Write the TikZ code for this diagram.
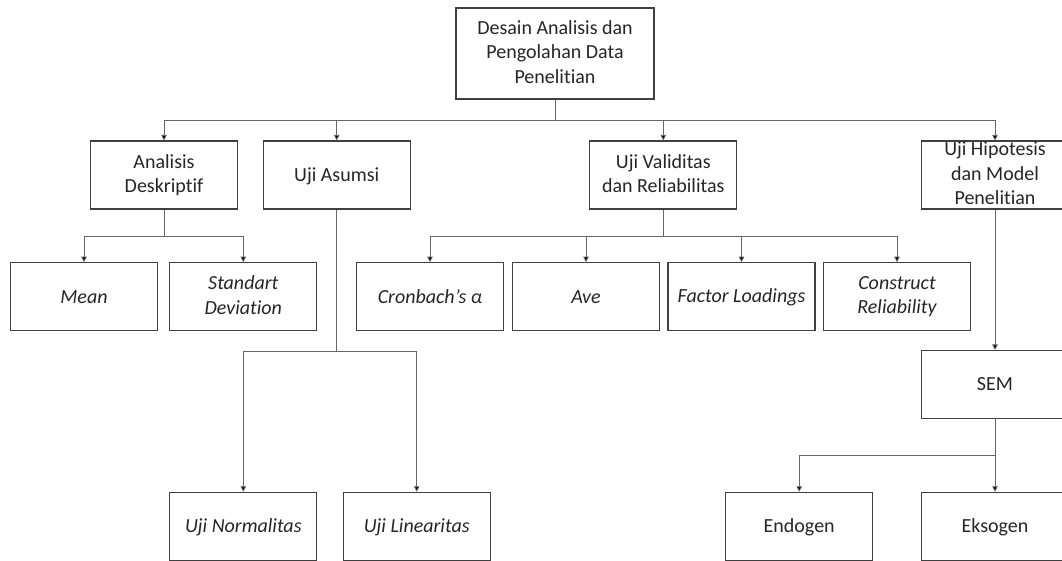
\documentclass[tikz,border=0pt]{standalone}
\usepackage{fontspec}
\setmainfont{Carlito}[Ligatures=NoCommon]
\usetikzlibrary{arrows.meta}

% line strut so every box centres its text on the same line metrics
\newcommand{\bxstrut}{\rule[-3.2pt]{0pt}{19.2pt}}

\tikzset{
  box/.style={draw=black!75, line width=1.1pt, rectangle, fill=white,
    minimum width=147pt, minimum height=68pt, inner sep=0pt, align=center,
    text=black!85, font=\fontsize{20}{24.4}\selectfont,
    execute at begin node=\bxstrut, execute at end node=\bxstrut},
  ibox/.style={box, font=\fontsize{20}{24.4}\selectfont\itshape},
  conn/.style={draw=black!60, line width=0.8pt},
  arr/.style={conn, -{Triangle[width=5.5pt,length=5.5pt,fill=black]}}
}

\begin{document}
\begin{tikzpicture}[x=1pt, y=-1pt]
  \useasboundingbox (0,0) rectangle (1062,560);
  \clip (0,0) rectangle (1062,560);

  % root
  \node[box, minimum width=198pt, minimum height=91pt] (top) at (555,53.5)
    {Desain Analisis dan\\Pengolahan Data\\Penelitian};

  % first level
  \node[box] (ad) at (164,175) {Analisis\\Deskriptif};
  \node[box] (ua) at (336.7,175) {Uji Asumsi};
  \node[box] (uv) at (663.3,175) {Uji Validitas\\dan Reliabilitas};
  \node[box] (uh) at (995,175) {Uji Hipotesis\\dan Model\\Penelitian};

  % second level
  \node[ibox] (mean) at (84,296.7) {Mean};
  \node[ibox] (sd) at (243.3,296.7) {Standart\\Deviation};
  \node[ibox] (cr) at (430,296.7) {Cronbach’s α};
  \node[ibox] (ave) at (586,296.7) {Ave};
  \node[ibox] (fl) at (741.5,296.7) {Factor Loadings};
  \node[ibox] (cons) at (897,296.7) {Construct\\Reliability};

  % SEM branch
  \node[box] (sem) at (995,384.5) {SEM};

  % bottom level
  \node[ibox] (un) at (243.3,526.3) {Uji Normalitas};
  \node[ibox] (ul) at (416.7,526.3) {Uji Linearitas};
  \node[box] (endo) at (799.2,526.3) {Endogen};
  \node[box] (ekso) at (995,526.3) {Eksogen};

  % junction points of the branch lines
  \coordinate (j0) at (555,120);
  \coordinate (j1) at (164,236);
  \coordinate (j2) at (663.3,236);
  \coordinate (j3) at (336.7,351);
  \coordinate (j4) at (995,455.7);

  % connectors
  \draw[conn] (top.south) -- (j0);
  \foreach \c in {ad,ua,uv,uh} \draw[arr] (j0) -| (\c.north);

  \draw[conn] (ad.south) -- (j1);
  \foreach \c in {mean,sd} \draw[arr] (j1) -| (\c.north);

  \draw[conn] (uv.south) -- (j2);
  \foreach \c in {cr,ave,fl,cons} \draw[arr] (j2) -| (\c.north);

  \draw[conn] (ua.south) -- (j3);
  \foreach \c in {un,ul} \draw[arr] (j3) -| (\c.north);

  \draw[arr] (uh.south) -- (sem.north);

  \draw[conn] (sem.south) -- (j4);
  \foreach \c in {endo,ekso} \draw[arr] (j4) -| (\c.north);
\end{tikzpicture}
\end{document}
